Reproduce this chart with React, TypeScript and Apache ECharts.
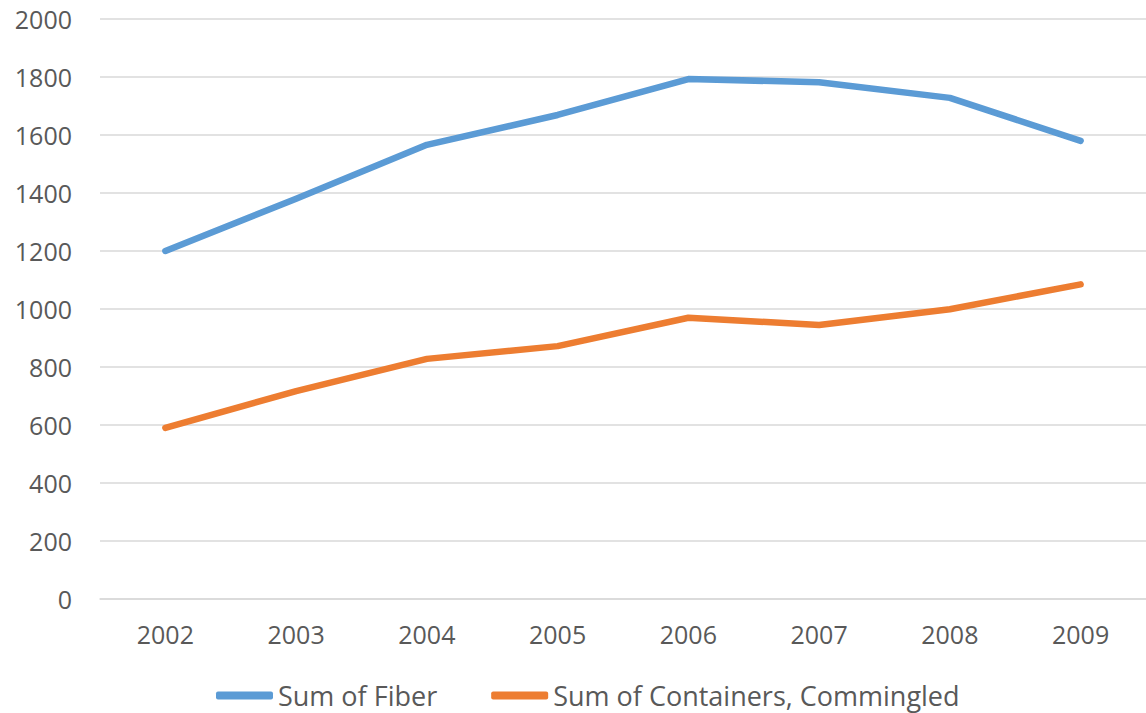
import React, { useEffect, useRef } from "react";
import * as echarts from "echarts";

const years = ["2002", "2003", "2004", "2005", "2006", "2007", "2008", "2009"];
const fiber = [1200, 1380, 1566, 1669, 1793, 1782, 1728, 1580];
const containers = [590, 717, 828, 872, 970, 945, 999, 1085];
const seriesNames = ["Sum of Fiber", "Sum of Containers, Commingled"];
const colors = ["#5B9BD5", "#ED7D31"];

export default function App() {
  const ref = useRef<HTMLDivElement>(null);
  useEffect(() => {
    if (!ref.current) return;
    const chart = echarts.init(ref.current, null, { renderer: "svg" });
    const font = "'Open Sans', sans-serif";
    chart.setOption({
      animation: false,
      color: colors,
      grid: { left: 100, right: -7, top: 19, bottom: 114, containLabel: false },
      legend: {
        data: seriesNames,
        top: 682,
        left: 216,
        padding: 0,
        icon: "roundRect",
        itemWidth: 57,
        itemHeight: 8,
        itemGap: 54,
        textStyle: { fontFamily: font, fontSize: 27, color: "#595959" },
      },
      xAxis: {
        type: "category",
        data: years,
        boundaryGap: true,
        axisLine: { show: true, lineStyle: { color: "#D9D9D9", width: 1.5 } },
        axisTick: { show: false },
        axisLabel: { fontFamily: font, fontSize: 25, color: "#595959", margin: 22 },
      },
      yAxis: {
        type: "value",
        min: 0,
        max: 2000,
        interval: 200,
        axisLine: { show: false },
        axisTick: { show: false },
        splitLine: { lineStyle: { color: "#D9D9D9", width: 1.5 } },
        axisLabel: {
          fontFamily: font,
          fontSize: 25,
          color: "#595959",
          margin: 28,
          formatter: (v: number) => String(v),
        },
      },
      series: [
        {
          name: seriesNames[0],
          type: "line",
          data: fiber,
          showSymbol: false,
          symbol: "none",
          lineStyle: { width: 6.5, cap: "round", join: "round", color: colors[0] },
        },
        {
          name: seriesNames[1],
          type: "line",
          data: containers,
          showSymbol: false,
          symbol: "none",
          lineStyle: { width: 6.5, cap: "round", join: "round", color: colors[1] },
        },
      ],
    });
    return () => chart.dispose();
  }, []);
  return (
    <div
      ref={ref}
      style={{ position: "absolute", left: 0, top: 0, width: 1146, height: 713, background: "#fff" }}
    />
  );
}
